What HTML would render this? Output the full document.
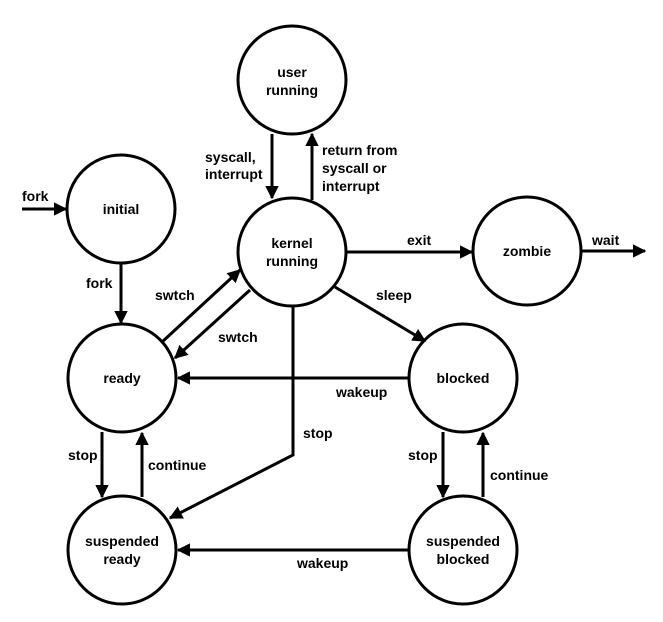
<!DOCTYPE html>
<html><head><meta charset="utf-8"><style>body{margin:0;background:#fff}svg{display:block}text{font-family:"Liberation Sans",sans-serif;font-weight:bold;font-size:14px;fill:#000}</style></head><body>
<svg width="663" height="622" viewBox="0 0 663 622">
<defs><marker id="a" viewBox="0 0 10 10" refX="9" refY="5" markerWidth="4.5" markerHeight="4.5" orient="auto" markerUnits="strokeWidth"><path d="M0,0L10,5L0,10z" fill="#000"/></marker></defs>
<g fill="none" stroke="#000" stroke-width="3">
<circle cx="292" cy="80" r="54"/>
<circle cx="121" cy="209" r="54"/>
<circle cx="292" cy="252" r="54"/>
<circle cx="527" cy="251" r="54"/>
<circle cx="122" cy="378" r="54"/>
<circle cx="463" cy="378" r="54"/>
<circle cx="122" cy="550" r="54"/>
<circle cx="463" cy="550" r="54"/>
</g>
<g fill="none" stroke="#000" stroke-width="3" marker-end="url(#a)">
<line x1="22" y1="209" x2="66" y2="209"/>
<line x1="121" y1="263" x2="121" y2="323"/>
<line x1="162" y1="342" x2="240" y2="270"/>
<line x1="250" y1="290" x2="175" y2="358"/>
<line x1="272" y1="134" x2="272" y2="198"/>
<line x1="312" y1="200" x2="312" y2="134"/>
<line x1="347" y1="252" x2="472" y2="252"/>
<line x1="581" y1="251" x2="645" y2="251"/>
<line x1="335" y1="287" x2="425" y2="341"/>
<line x1="409" y1="378" x2="178" y2="378"/>
<polyline points="293,307 293,455 170,518"/>
<line x1="102" y1="432" x2="102" y2="497"/>
<line x1="142" y1="497" x2="142" y2="433"/>
<line x1="443" y1="432" x2="443" y2="497"/>
<line x1="483" y1="497" x2="483" y2="433"/>
<line x1="409" y1="550" x2="178" y2="550"/>
</g>
<g text-anchor="middle">
<text x="292" y="77">user</text><text x="292" y="95">running</text>
<text x="121" y="214">initial</text>
<text x="292" y="248">kernel</text><text x="292" y="266">running</text>
<text x="527" y="256">zombie</text>
<text x="122" y="383">ready</text>
<text x="463" y="383">blocked</text>
<text x="122" y="546">suspended</text><text x="122" y="564">ready</text>
<text x="463" y="546">suspended</text><text x="463" y="564">blocked</text>
</g>
<text x="22" y="201">fork</text>
<text x="86" y="288">fork</text>
<text x="155" y="300">swtch</text>
<text x="218" y="342">swtch</text>
<text x="205" y="162">syscall,</text><text x="205" y="179">interrupt</text>
<text x="322" y="155">return from</text><text x="322" y="173">syscall or</text><text x="322" y="191">interrupt</text>
<text x="407" y="245">exit</text>
<text x="592" y="245">wait</text>
<text x="376" y="300">sleep</text>
<text x="336" y="397">wakeup</text>
<text x="303" y="438">stop</text>
<text x="68" y="460">stop</text>
<text x="148" y="470">continue</text>
<text x="408" y="460">stop</text>
<text x="490" y="480">continue</text>
<text x="297" y="568">wakeup</text>
</svg>
</body></html>
